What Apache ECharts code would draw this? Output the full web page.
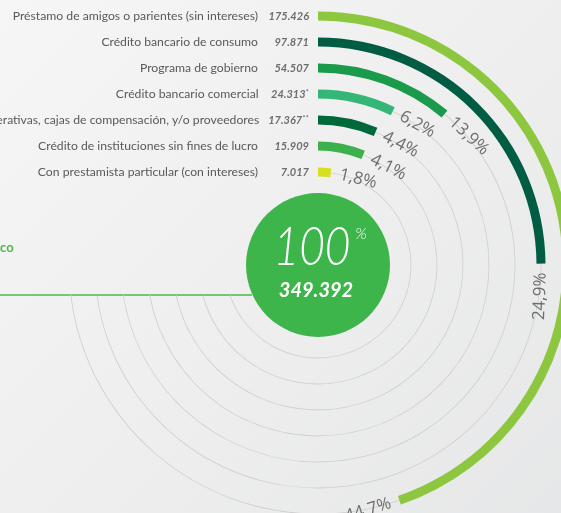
<!DOCTYPE html>
<html>
<head>
<meta charset="utf-8">
<script src="https://cdn.jsdelivr.net/npm/echarts@6/dist/echarts.min.js"></script>
<style>
    html, body { margin: 0; padding: 0; }
    #chart { width: 561px; height: 513px; background: linear-gradient(135deg, #f6f6f6 0%, #eeeeee 55%, #e6e7e8 100%); }
</style>
</head>
<body>
<div id="chart"></div>
<script>
// rings from the inside out
var categories = [
    'Con prestamista particular (con intereses)',
    'Crédito de instituciones sin fines de lucro',
    'Cooperativas, cajas de compensación, y/o proveedores',
    'Crédito bancario comercial',
    'Programa de gobierno',
    'Crédito bancario de consumo',
    'Préstamo de amigos o parientes (sin intereses)'
];
var amounts = ['7.017', '15.909', '17.367', '24.313', '54.507', '97.871', '175.426'];
var notes = ['', '', '**', '*', '', '', ''];
var pctLabels = ['1,8%', '4,1%', '4,4%', '6,2%', '13,9%', '24,9%', '44.7%'];
// arc length as drawn, % of a full turn
var arcShare = [2.2, 6.2, 6.5, 7.2, 11.1, 24.9, 44.7];
// where the grey guide rings stop, % of a full turn
var trackEnd = [69.8, 70.9, 71.7, 72.2, 72.6, 72.8, 73.1];
var barColors = ['#d7df23', '#3cb04a', '#00693a', '#33b676', '#1a9a4b', '#005d44', '#8dc63f'];
var totalPct = '100';
var totalAmount = '349.392';

var CX = 318, CY = 265;

var myChart = echarts.init(document.getElementById('chart'), null, { renderer: 'canvas' });

function renderPct(params, api) {
    var i = params.dataIndex;
    var cs = params.coordSys;
    var p = api.coord([api.value(0), api.value(1)]);
    var dx = p[0] - cs.cx, dy = p[1] - cs.cy;
    var r = Math.sqrt(dx * dx + dy * dy);
    var a = Math.atan2(dx, -dy) + 9 / r;
    var flip = a > Math.PI / 2;
    return {
        type: 'text',
        x: cs.cx + r * Math.sin(a),
        y: cs.cy - r * Math.cos(a),
        rotation: flip ? Math.PI - a : -a,
        style: {
            text: pctLabels[i],
            align: flip ? 'right' : 'left',
            verticalAlign: 'middle',
            fill: '#6d6e71',
            fontSize: 17,
            fontFamily: 'Open Sans'
        }
    };
}

var valueStyle = { fontFamily: 'Lato', fontSize: 11, fontStyle: 'italic', fontWeight: 'bold', color: '#6d6e71', align: 'right' };

var option = {
    animation: false,
    polar: [
        { center: [CX, CY], radius: [80, 262] },
        { center: [CX, CY], radius: [80, 262] }
    ],
    angleAxis: [
        { polarIndex: 0, type: 'value', min: 0, max: 100, startAngle: 90, clockwise: true, show: false },
        { polarIndex: 1, type: 'value', min: 0, max: 100, startAngle: 90, clockwise: true, show: false }
    ],
    radiusAxis: [{
        polarIndex: 0,
        type: 'category',
        data: categories,
        axisLine: { show: false },
        axisTick: { show: false },
        splitLine: { show: false },
        axisLabel: {
            interval: 0,
            margin: 9,
            formatter: function (value, index) {
                var n = notes[index];
                return '{n|' + value + '}{v' + n.length + '|' + amounts[index] + '}' + (n ? '{s|' + n + '}' : '');
            },
            rich: {
                n: { fontFamily: 'Lato', fontSize: 12.2, color: '#58595b' },
                v0: Object.assign({ width: 51 }, valueStyle),
                v1: Object.assign({ width: 47 }, valueStyle),
                v2: Object.assign({ width: 43 }, valueStyle),
                s: { fontFamily: 'Lato', fontSize: 8, color: '#6d6e71', verticalAlign: 'top' }
            }
        }
    }, {
        polarIndex: 1,
        type: 'category',
        data: categories,
        show: false
    }],
    series: [{
        // grey guide rings
        type: 'bar',
        coordinateSystem: 'polar',
        polarIndex: 1,
        barWidth: 0.8,
        silent: true,
        z: 1,
        itemStyle: { color: '#cfcfcf' },
        data: trackEnd
    }, {
        type: 'bar',
        coordinateSystem: 'polar',
        polarIndex: 0,
        barWidth: 9,
        silent: true,
        z: 3,
        data: arcShare.map(function (v, i) {
            return { value: v, itemStyle: { color: barColors[i] } };
        })
    }, {
        type: 'custom',
        coordinateSystem: 'polar',
        polarIndex: 0,
        silent: true,
        z: 4,
        renderItem: renderPct,
        data: arcShare.map(function (v, i) { return [i, v]; })
    }, {
        // centre disc
        type: 'pie',
        center: [CX, CY],
        radius: [0, 72],
        silent: true,
        z: 5,
        label: { show: false },
        labelLine: { show: false },
        itemStyle: { color: '#3db54a' },
        data: [{ value: 100, name: 'Total' }]
    }],
    graphic: [{
        type: 'line',
        z: 0,
        shape: { x1: 0, y1: 295, x2: 252, y2: 295 },
        style: { stroke: '#4db848', lineWidth: 1.5 }
    }, {
        type: 'text',
        x: 0, y: 248,
        style: { text: 'co', fill: '#4db848', fontFamily: 'Lato', fontWeight: 'bold', fontSize: 13, verticalAlign: 'middle' }
    }, {
        type: 'text',
        z: 10,
        x: 312, y: 248,
        scaleX: 0.82,
        style: { text: totalPct, fill: '#fff', fontFamily: 'Lato', fontWeight: 300, fontStyle: 'italic', fontSize: 54, align: 'center', verticalAlign: 'middle' }
    }, {
        type: 'text',
        z: 10,
        x: 361, y: 234,
        style: { text: '%', fill: '#fff', fontFamily: 'Lato', fontWeight: 300, fontStyle: 'italic', fontSize: 16, align: 'center', verticalAlign: 'middle' }
    }, {
        type: 'text',
        z: 10,
        x: 316, y: 291,
        style: { text: totalAmount, fill: '#fff', fontFamily: 'Lato', fontWeight: 'bold', fontStyle: 'italic', fontSize: 20, align: 'center', verticalAlign: 'middle' }
    }]
};

myChart.setOption(option);
</script>
</body>
</html>
